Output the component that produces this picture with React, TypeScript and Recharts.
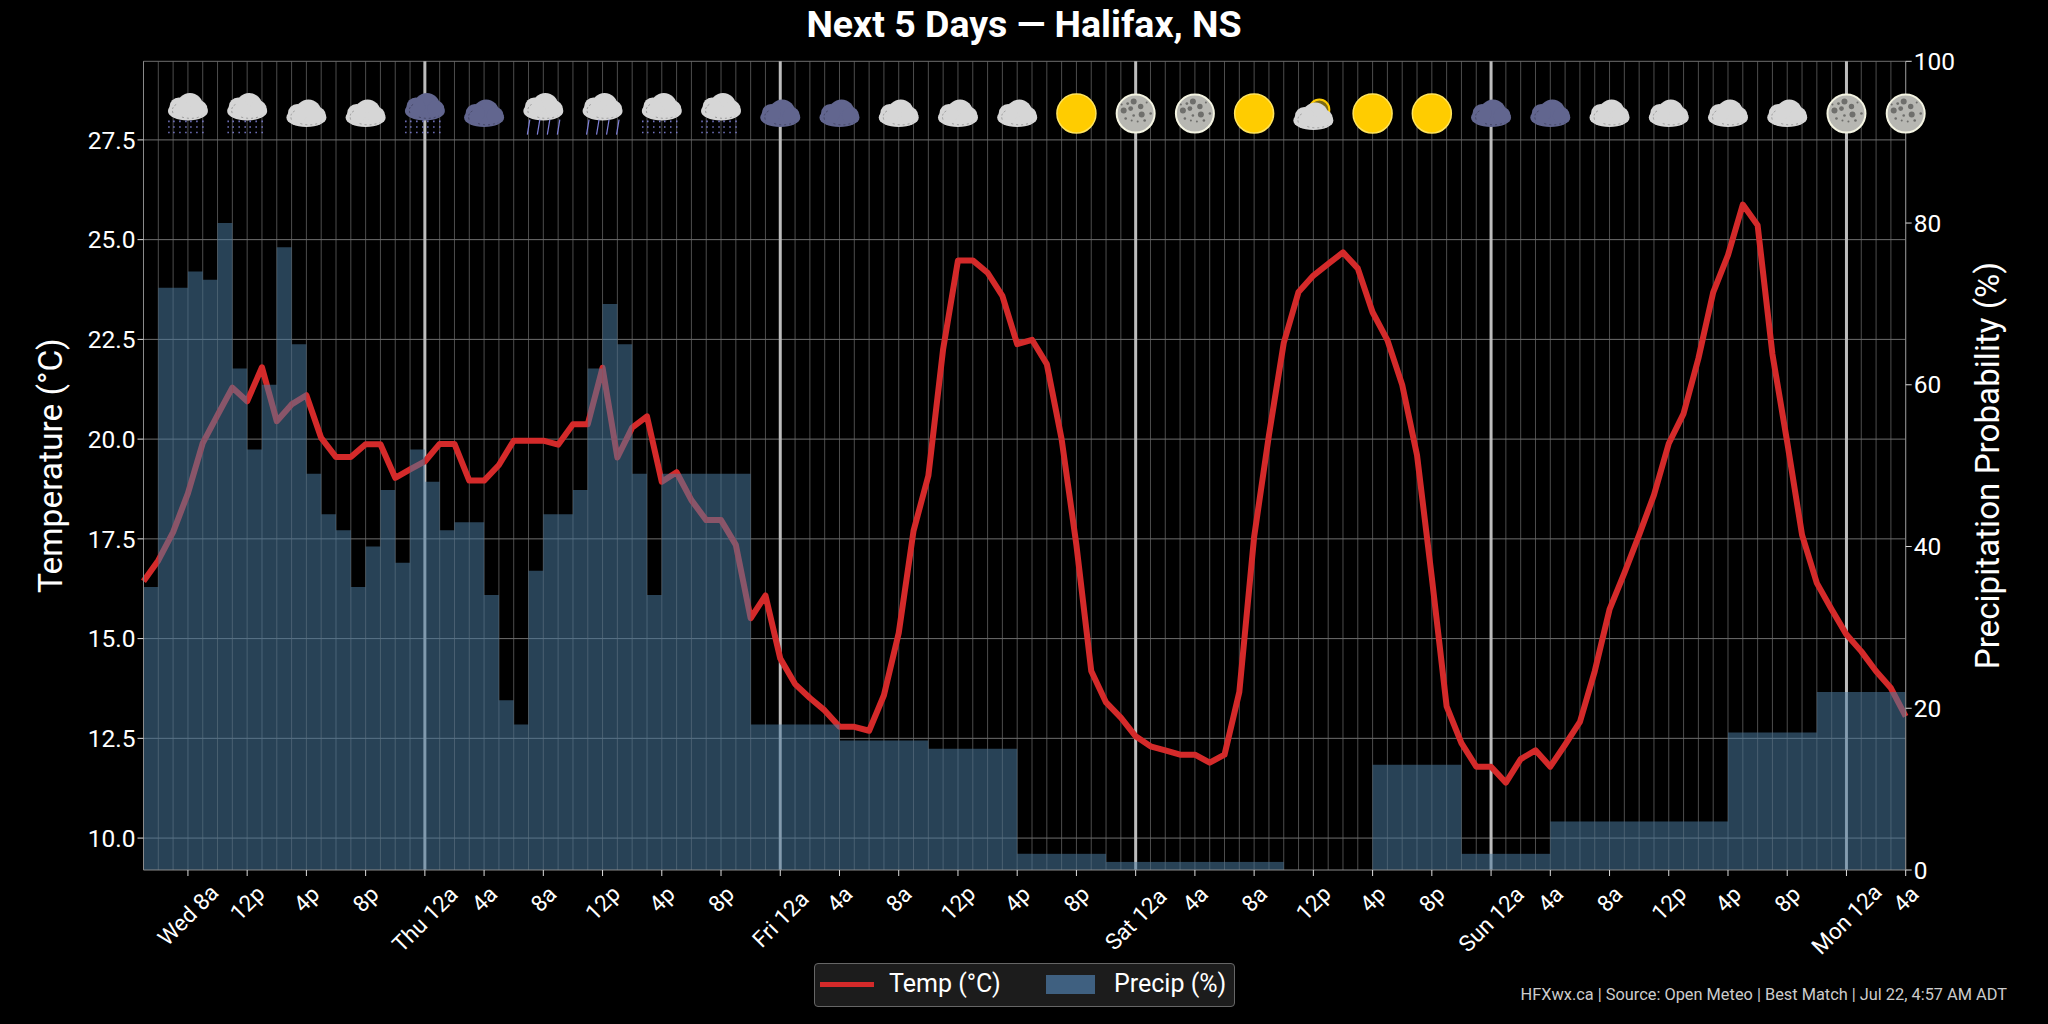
import { ComposedChart, CartesianGrid, XAxis, YAxis, Line, Bar } from 'recharts';

// hourly, starting Wed 5a
const tempC = [
  16.44, 16.96, 17.67, 18.64, 19.9, 20.6, 21.29, 20.95, 21.8, 20.45,
  20.87, 21.1, 20.03, 19.55, 19.55, 19.87, 19.87, 19.03, 19.24, 19.44,
  19.88, 19.88, 18.96, 18.96, 19.35, 19.96, 19.96, 19.96, 19.86, 20.37,
  20.37, 21.79, 19.54, 20.29, 20.57, 18.93, 19.17, 18.47, 17.97, 17.97,
  17.35, 15.51, 16.08, 14.5, 13.86, 13.51, 13.2, 12.79, 12.79, 12.69,
  13.58, 15.14, 17.7, 19.08, 22.26, 24.48, 24.48, 24.17, 23.59, 22.38,
  22.49, 21.88, 20.0, 17.34, 14.19, 13.4, 13.02, 12.55, 12.3, 12.2,
  12.09, 12.09, 11.89, 12.09, 13.66, 17.55, 20.1, 22.41, 23.69, 24.1,
  24.39, 24.68, 24.28, 23.18, 22.48, 21.36, 19.6, 16.53, 13.3, 12.38,
  11.79, 11.79, 11.39, 11.98, 12.2, 11.79, 12.34, 12.91, 14.18, 15.73,
  16.64, 17.6, 18.6, 19.89, 20.64, 22.02, 23.68, 24.61, 25.88, 25.36,
  22.13, 19.92, 17.6, 16.39, 15.73, 15.1, 14.68, 14.18, 13.76, 13.05,
];

const precipPct = [
  35, 72, 72, 74, 73, 80, 62, 52, 60, 77,
  65, 49, 44, 42, 35, 40, 47, 38, 52, 48,
  42, 43, 43, 34, 21, 18, 37, 44, 44, 47,
  62, 70, 65, 49, 34, 49, 49, 49, 49, 49,
  49, 18, 18, 18, 18, 18, 18, 16, 16, 16,
  16, 16, 16, 15, 15, 15, 15, 15, 15, 2,
  2, 2, 2, 2, 2, 1, 1, 1, 1, 1,
  1, 1, 1, 1, 1, 1, 1, 0, 0, 0,
  0, 0, 0, 13, 13, 13, 13, 13, 13, 2,
  2, 2, 2, 2, 2, 6, 6, 6, 6, 6,
  6, 6, 6, 6, 6, 6, 6, 17, 17, 17,
  17, 17, 17, 22, 22, 22, 22, 22, 22,
];

const tickHours = [3, 7, 11, 15, 19, 23, 27, 31, 35, 39, 43, 47, 51, 55, 59, 63, 67, 71, 75, 79, 83, 87, 91, 95, 99, 103, 107, 111, 115, 119];
const tickLabels = [
  'Wed 8a', '12p', '4p', '8p', 'Thu 12a', '4a', '8a', '12p', '4p', '8p',
  'Fri 12a', '4a', '8a', '12p', '4p', '8p', 'Sat 12a', '4a', '8a', '12p',
  '4p', '8p', 'Sun 12a', '4a', '8a', '12p', '4p', '8p', 'Mon 12a', '4a',
];
const iconKinds = [
  'drizzle', 'drizzle', 'cloud', 'cloud', 'darkDrizzle', 'dark', 'rain', 'rain', 'drizzle', 'drizzle',
  'dark', 'dark', 'cloud', 'cloud', 'cloud', 'sun', 'moon', 'moon', 'sun', 'partly',
  'sun', 'sun', 'dark', 'dark', 'cloud', 'cloud', 'cloud', 'cloud', 'moon', 'moon',
];
const dayHours = [19, 43, 67, 91, 115];
const allHours = tempC.map((_, i) => i);
const tempTicks = [10, 12.5, 15, 17.5, 20, 22.5, 25, 27.5];
const precipTicks = [0, 20, 40, 60, 80, 100];
const TEMP_MIN = 9.2;
const TEMP_MAX = 29.47;
const ICON_LEVEL = 28.16; // icon strip sits at this temp

const FONT = 'Roboto, sans-serif';
const RED = '#d42a2a';

const rows = tempC.map((t, i) => ({
  hour: i,
  mid: i + 0.5,
  temp: t,
  precip: i < precipPct.length ? precipPct[i] : null,
  icon: tickHours.includes(i) ? ICON_LEVEL : null,
  kind: tickHours.includes(i) ? iconKinds[tickHours.indexOf(i)] : null,
}));

function Cloud({ x, y, fill }: any) {
  const speck = fill === '#d6d6d6' ? '#8d8d8d' : '#3d3f5c';
  return (
    <g>
      <ellipse cx={x} cy={y + 4} rx={20} ry={9.5} fill={fill} />
      <circle cx={x + 2} cy={y - 1} r={13} fill={fill} />
      <circle cx={x - 9} cy={y} r={9.5} fill={fill} />
      <circle cx={x + 11} cy={y + 2} r={8.5} fill={fill} />
      <path d={`M${x - 15} ${y + 6} q-2 -6 4 -9`} stroke={speck} strokeWidth={0.8} strokeDasharray="2 2" fill="none" />
      <path d={`M${x - 6} ${y + 10} q10 3 20 -1`} stroke={speck} strokeWidth={0.8} strokeDasharray="2 3" fill="none" />
    </g>
  );
}

function Drizzle({ x, y }: any) {
  return (
    <g stroke="#8587e0" strokeWidth={1.3} strokeDasharray="1.6 4">
      {[-19, -14, -8, -2, 3, 9, 15].map((d) => (
        <line key={d} x1={x + d} y1={y} x2={x + d} y2={y + 14} />
      ))}
    </g>
  );
}

function Rain({ x, y }: any) {
  return (
    <g stroke="#7d7fd6" strokeWidth={1.2}>
      {[-16, -6, 4, 14].map((d) => (
        <line key={d} x1={x + d} y1={y + 15} x2={x + d + 2.5} y2={y} />
      ))}
    </g>
  );
}

const craters = [
  [-2, -12, 3], [5, -7, 2.7], [-12, -3, 3], [-5, -5, 2.4], [6, 1, 3], [-8, -10, 1.4],
  [-2, 2, 1.3], [15, 0, 1.3], [9, 7, 1.3], [-10, 5, 1.3], [-4, 7, 1], [2, 8, 1], [-14, -9, 1], [11, -11, 1],
];

function WeatherIcon(props: any) {
  const { cx, cy, payload } = props;
  if (cy == null || !payload.kind) return null;
  const kind = payload.kind;
  if (kind === 'sun') {
    return <circle cx={cx} cy={cy} r={19.5} fill="#ffcc00" stroke="#ffe45c" strokeWidth={1.5} />;
  }
  if (kind === 'moon') {
    return (
      <g>
        <circle cx={cx} cy={cy} r={19} fill="#b7b7b2" stroke="#f4f4e2" strokeWidth={2} />
        {craters.map((c, i) => (
          <circle key={i} cx={cx + c[0]} cy={cy + c[1]} r={c[2]} fill="#6f6f6c" />
        ))}
      </g>
    );
  }
  if (kind === 'partly') {
    return (
      <g>
        <circle cx={cx + 6} cy={cy - 4} r={10} fill="#7d6a14" stroke="#ffcc00" strokeWidth={2} />
        <Cloud x={cx} y={cy + 3} fill="#d6d6d6" />
      </g>
    );
  }
  const dark = kind === 'dark' || kind === 'darkDrizzle';
  const fill = dark ? '#62668f' : '#d6d6d6';
  if (kind === 'cloud' || kind === 'dark') return <Cloud x={cx} y={cy} fill={fill} />;
  return (
    <g>
      <Cloud x={cx} y={cy - 6.5} fill={fill} />
      {kind === 'rain' ? <Rain x={cx} y={cy + 6} /> : <Drizzle x={cx} y={cy + 7} />}
    </g>
  );
}

function HourTick({ x, y, payload }: any) {
  const label = tickLabels[tickHours.indexOf(payload.value)];
  // matplotlib centres the rotated box on the tick, top edge fixed
  const half = (label.length * 11.4 + 19) * 0.354;
  return (
    <text
      transform={`translate(${x},${y + half}) rotate(-45)`}
      textAnchor="middle"
      dominantBaseline="central"
      fill="#fff"
      fontSize={22.5}
      fontFamily={FONT}
    >
      {label}
    </text>
  );
}

export default function App() {
  return (
    <div style={{ position: 'fixed', left: 0, top: 0, width: 2048, height: 1024, background: '#000', overflow: 'hidden' }}>
      <div style={{ position: 'absolute', left: 0, width: 2048, top: 2, textAlign: 'center', color: '#fff', fontFamily: FONT, fontWeight: 700, fontSize: 37.5 }}>
        Next 5 Days — Halifax, NS
      </div>
      <ComposedChart
        width={2048}
        height={1024}
        data={rows}
        margin={{ top: 61.3, right: 0, bottom: 0, left: 0 }}
      >
        <CartesianGrid
          xAxisId="hours"
          yAxisId="temp"
          stroke="#4d4d4d"
          strokeWidth={1}
          horizontal={false}
          verticalValues={allHours}
        />
        <CartesianGrid
          xAxisId="hours"
          yAxisId="temp"
          stroke="#6e6e6e"
          strokeWidth={1}
          vertical={false}
          horizontalValues={[...tempTicks, TEMP_MAX]}
        />
        <CartesianGrid
          xAxisId="hours"
          yAxisId="temp"
          stroke="#bdbdbd"
          strokeWidth={3}
          horizontal={false}
          verticalValues={dayHours}
        />
        <XAxis
          xAxisId="hours"
          dataKey="hour"
          type="number"
          domain={[0, 119]}
          ticks={tickHours}
          interval={0}
          height={154}
          stroke="#8a8a8a"
          tickLine={{ stroke: '#ddd' }}
          tickSize={6}
          tickMargin={8}
          tick={<HourTick />}
        />
        <XAxis xAxisId="bars" orientation="top" dataKey="mid" type="number" domain={[0, 119]} allowDataOverflow hide />
        <YAxis
          yAxisId="temp"
          orientation="left"
          width={143.5}
          domain={[TEMP_MIN, TEMP_MAX]}
          ticks={tempTicks}
          interval={0}
          allowDataOverflow
          stroke="#8a8a8a"
          tickLine={{ stroke: '#ddd' }}
          tickSize={6}
          tickFormatter={(v: number) => v.toFixed(1)}
          tick={{ fill: '#fff', fontSize: 24.5, fontFamily: FONT }}
          label={{ value: 'Temperature (°C)', angle: -90, position: 'insideLeft', offset: 50, fill: '#fff', fontSize: 33.5, fontFamily: FONT, style: { textAnchor: 'middle' } }}
        />
        <YAxis
          yAxisId="precip"
          orientation="right"
          width={142.3}
          domain={[0, 100]}
          ticks={precipTicks}
          interval={0}
          stroke="#8a8a8a"
          tickLine={{ stroke: '#ddd' }}
          tickSize={6}
          tick={{ fill: '#fff', fontSize: 24.5, fontFamily: FONT }}
          label={{ value: 'Precipitation Probability (%)', angle: -90, position: 'insideRight', offset: 61, fill: '#fff', fontSize: 33.2, fontFamily: FONT, style: { textAnchor: 'middle' } }}
        />
        <Line
          xAxisId="hours"
          yAxisId="temp"
          dataKey="icon"
          stroke="none"
          dot={<WeatherIcon />}
          activeDot={false}
          connectNulls={false}
          isAnimationActive={false}
          legendType="none"
        />
        <Line
          xAxisId="hours"
          yAxisId="temp"
          dataKey="temp"
          name="Temp (°C)"
          stroke={RED}
          strokeWidth={6}
          strokeLinejoin="round"
          dot={false}
          activeDot={false}
          isAnimationActive={false}
          zIndex={250}
        />
        <Bar
          xAxisId="bars"
          yAxisId="precip"
          dataKey="precip"
          name="Precip (%)"
          fill="#4a7a9f"
          fillOpacity={0.54}
          barSize={14.8}
          isAnimationActive={false}
          zIndex={300}
        />
      </ComposedChart>
      <div style={{ position: 'absolute', left: 814, top: 963, width: 421, height: 44, boxSizing: 'border-box', background: '#1c1c1c', border: '1px solid #666', borderRadius: 4, color: '#fff', fontFamily: FONT, fontSize: 25 }}>
        <div style={{ position: 'absolute', left: 5, top: 18, width: 54, height: 5, background: RED }} />
        <div style={{ position: 'absolute', left: 74, top: 5, lineHeight: '30px' }}>Temp (°C)</div>
        <div style={{ position: 'absolute', left: 231, top: 11, width: 49, height: 19, background: '#3f6080' }} />
        <div style={{ position: 'absolute', left: 299, top: 5, lineHeight: '30px' }}>Precip (%)</div>
      </div>
      <div style={{ position: 'absolute', right: 41, top: 985, color: '#ccc', fontFamily: FONT, fontSize: 16.35 }}>
        HFXwx.ca | Source: Open Meteo | Best Match | Jul 22, 4:57 AM ADT
      </div>
    </div>
  );
}
